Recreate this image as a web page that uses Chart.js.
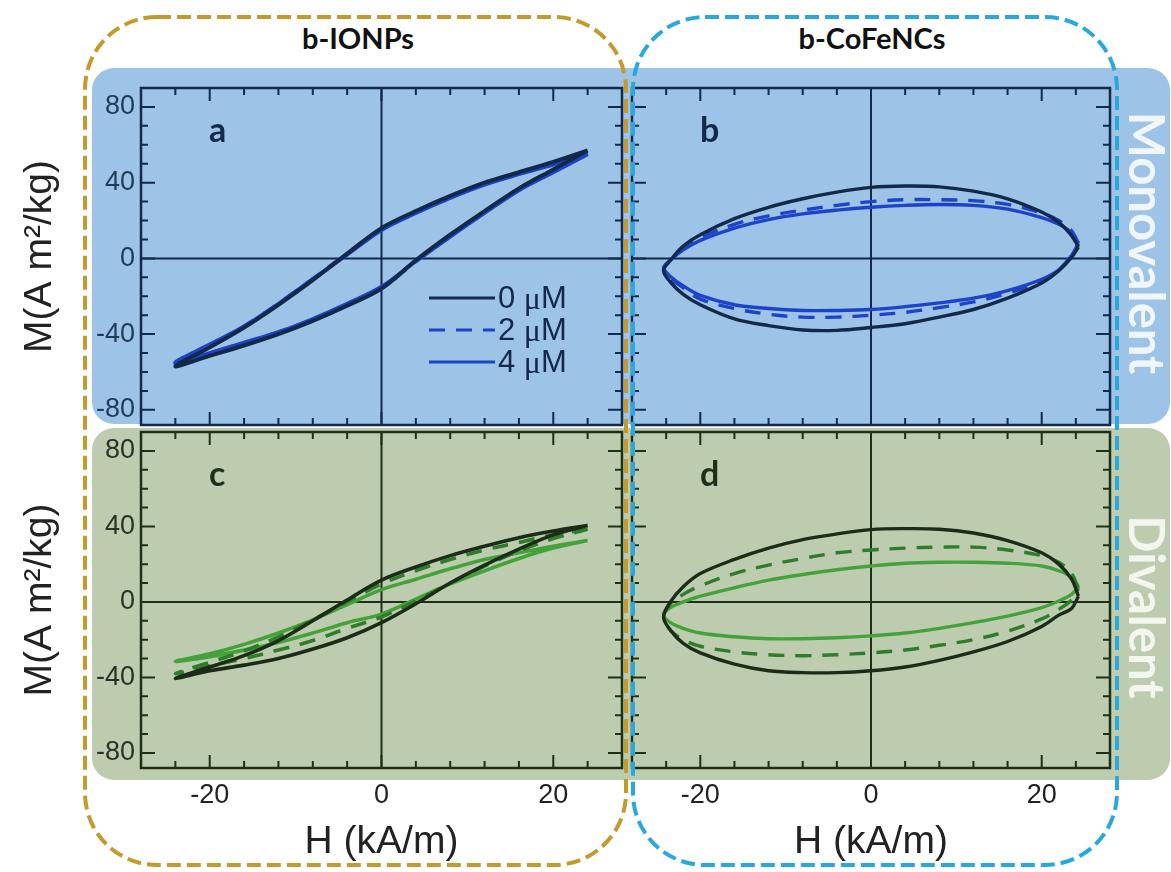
<!DOCTYPE html>
<html>
<head>
<meta charset="utf-8">
<script src="https://cdn.jsdelivr.net/npm/chart.js@4.4.0/dist/chart.umd.min.js"></script>
<style>
  html, body { margin: 0; padding: 0; background: #fff; }
  #fig { position: relative; width: 1171px; height: 872px; overflow: hidden; }
  .band { position: absolute; border-radius: 22px; }
  #bandMono { left: 92px; top: 68px; width: 1078px; height: 356px; background: #9dc3e6; }
  #bandDi { left: 92px; top: 428px; width: 1078px; height: 352px; background: #bdccaf; }
  canvas { position: absolute; }
  .colhead { position: absolute; top: 20px; width: 300px; text-align: center;
             font: 700 29px Lato, "Open Sans", sans-serif; color: #111; }
  .side { position: absolute; white-space: nowrap; font: 700 49px Lato, "Open Sans", sans-serif;
          transform: translate(-50%, -50%) rotate(90deg); }
  svg { position: absolute; left: 0; top: 0; pointer-events: none; }
</style>
</head>
<body>
<div id="fig">
  <div class="band" id="bandMono"></div>
  <div class="band" id="bandDi"></div>

  <div class="colhead" style="left:208px">b-IONPs</div>
  <div class="colhead" style="left:722px">b-CoFeNCs</div>

  <div class="side" style="left:1148px; top:243px; color:rgba(246,249,253,0.95)">Monovalent</div>
  <div class="side" style="left:1148px; top:607px; color:rgba(246,248,242,0.95)">Divalent</div>

  <canvas id="cA" width="650" height="400" style="left:0px; top:60px"></canvas>
  <canvas id="cB" width="540" height="400" style="left:600px; top:60px"></canvas>
  <canvas id="cC" width="650" height="467" style="left:0px; top:405px"></canvas>
  <canvas id="cD" width="540" height="467" style="left:600px; top:405px"></canvas>

  <svg width="1171" height="872">
    <rect x="85" y="17" width="541" height="848" rx="72" ry="72" fill="none"
          stroke="#c39a2b" stroke-width="4" stroke-dasharray="14 6"/>
    <rect x="633" y="17" width="484" height="848" rx="72" ry="72" fill="none"
          stroke="#29a8e0" stroke-width="4" stroke-dasharray="14 6"/>
  </svg>
</div>

<script>
// ---- field sweeps (kA/m): down branch then up branch ----
const hIONP = [24, 20, 16, 12, 8, 4, 0, -4, -8, -12, -16, -20, -24,
               -20, -16, -12, -8, -4, 0, 4, 8, 12, 16, 20, 24];
const hCoFe = [24.3, 23.5, 22, 20, 16, 12, 8, 4, 0, -4, -8, -12, -16, -20, -22, -23.5, -24.3,
               -23.5, -22, -20, -16, -12, -8, -4, 0, 4, 8, 12, 16, 20, 22, 23.5, 24.3];

// ---- magnetisation (A m2/kg) ----
// b-IONPs, monovalent
const mA0 = [57, 51, 45.5, 40, 33, 25, 16, 2.5, -11.5, -24.5, -36.5, -47, -57,
             -51.5, -46, -40, -33, -25, -16, -1, 12.5, 25, 37, 47, 57];
const mA2 = [55.5, 50, 45, 39.5, 32.5, 24.5, 15.5, 2.5, -11, -24, -36, -46, -55.5,
             -50.5, -45, -39, -32.5, -24.5, -15.5, -1.5, 12, 24.5, 36.5, 46, 55.5];
const mA4 = [55, 49.5, 44.5, 39, 32, 24, 15, 2, -11, -24, -36, -45.5, -55,
             -50, -44.5, -39, -32, -24, -15, -1.5, 11.5, 24, 36, 45.5, 55];
// b-CoFeNCs, monovalent
const mB0 = [6, 12, 19, 24.5, 31.5, 35.5, 37.8, 38.2, 37.5, 35, 31.5, 27, 21, 12.5, 6.5, -1, -6.5,
             -12.5, -19, -24.5, -32, -35.5, -37.8, -38, -36.5, -34.5, -31, -27, -21, -13, -6.5, 0.5, 6];
const mB2 = [8, 14.5, 20, 24, 28.5, 30.5, 31, 31, 30, 28, 25.5, 22.5, 18, 11, 5, -1, -5.5,
             -10.5, -15.5, -21.5, -26.5, -29.5, -31, -31, -30, -28.5, -26, -23, -18.5, -12, -6, 1.5, 8];
const mB4 = [8, 13.5, 18, 21.5, 26, 28, 28.5, 28, 27, 25.5, 23.5, 20.5, 16, 9.5, 4.5, -1, -5,
             -9.5, -14.5, -19.5, -24.5, -26.5, -27.5, -27.5, -27, -25.5, -23.5, -21, -17, -11, -6, 1.5, 8];
// b-IONPs, divalent
const mC0 = [40.5, 37.5, 34, 29.5, 24.5, 18.5, 11.5, 1, -10, -20.5, -28.5, -34.5, -40.5,
             -36.5, -33.5, -30, -25, -19, -11, -1, 10, 19.5, 28, 35.5, 40.5];
const mC2 = [38.5, 35.5, 31.5, 27.5, 22.5, 16.5, 9.5, 0, -9.5, -18.5, -26, -32, -38,
             -34, -30, -25.5, -20.5, -14, -8, 0.5, 10, 19, 27, 33.5, 38.5];
const mC4 = [32.5, 29.5, 26, 22.5, 17.5, 12, 6.5, -1.5, -9.5, -16.5, -22.5, -27.5, -31.5,
             -29, -25.5, -21.5, -16.5, -11, -6.5, 1.5, 9.5, 16.5, 23, 28.5, 32.5];
// b-CoFeNCs, divalent
const mD0 = [3, 12, 20, 26, 32.5, 36.5, 38.5, 38.8, 38.3, 36, 33, 28.5, 22.5, 15, 8, 0, -8,
             -15, -22, -27, -33, -36.5, -37.5, -37.5, -36.5, -34.5, -31, -26.5, -21, -13, -7, -3.5, 3];
const mD2 = [7, 15, 21, 24.5, 27.5, 29, 29, 28.5, 27.5, 26, 23, 19.5, 15, 8.5, 4, -1, -8,
             -15, -20, -23.5, -26.5, -28, -28.5, -28, -27, -25.5, -23, -20, -15.5, -9, -4, 1, 7];
const mD4 = [8, 13, 16.5, 19, 20.5, 21, 21, 20.5, 19, 17, 14.5, 11.5, 7.5, 3, 0, -3, -7,
             -11, -14, -16.5, -18.5, -19.5, -19.5, -19, -18, -16.5, -14, -11, -7.5, -3, 0.5, 4, 8];

// ---- concentrations and axis ticks ----
const concLabels = ['0 \u03BCM', '2 \u03BCM', '4 \u03BCM'];
const xLabelTicks = [-20, 0, 20];
const xTickMarks = [-24, -20, -16, -12, -8, -4, 0, 4, 8, 12, 16, 20, 24];
const yLabelTicks = [-80, -40, 0, 40, 80];
const yTickMarks = [-80, -70, -60, -50, -40, -30, -20, -10, 0, 10, 20, 30, 40, 50, 60, 70, 80];

const SANS = '"Liberation Sans", Arial, sans-serif';
const BOLD = 'Lato, "Open Sans", sans-serif';

const toPoints = (h, m) => h.map((v, i) => ({ x: v, y: m[i] }));

// frame, zero lines, inward tick marks, panel letter, optional legend
const framePlugin = {
  id: 'frame',
  beforeDatasetsDraw(chart, args, o) {
    const { ctx, chartArea: a, scales: { x, y } } = chart;
    const x0 = x.getPixelForValue(0), y0 = y.getPixelForValue(0);
    ctx.save();
    ctx.strokeStyle = o.color;
    ctx.lineWidth = 2;
    ctx.beginPath();
    ctx.moveTo(x0, a.top); ctx.lineTo(x0, a.bottom);
    ctx.moveTo(a.left, y0); ctx.lineTo(a.right, y0);
    ctx.stroke();
    ctx.restore();
  },
  afterDatasetsDraw(chart, args, o) {
    const { ctx, chartArea: a, scales: { x, y } } = chart;
    ctx.save();
    ctx.strokeStyle = o.color;
    ctx.lineWidth = 2.5;
    ctx.strokeRect(a.left, a.top, a.right - a.left, a.bottom - a.top);
    ctx.lineWidth = 2;
    ctx.beginPath();
    xTickMarks.forEach(v => {
      const px = x.getPixelForValue(v);
      const len = xLabelTicks.includes(v) ? 13 : 7;
      ctx.moveTo(px, a.top); ctx.lineTo(px, a.top + len);
      ctx.moveTo(px, a.bottom); ctx.lineTo(px, a.bottom - len);
    });
    yTickMarks.forEach(v => {
      const py = y.getPixelForValue(v);
      const len = yLabelTicks.includes(v) ? 14 : 7;
      ctx.moveTo(a.left, py); ctx.lineTo(a.left + len, py);
      ctx.moveTo(a.right, py); ctx.lineTo(a.right - len, py);
    });
    ctx.stroke();

    // panel letter
    ctx.fillStyle = o.color;
    ctx.font = '700 34px ' + BOLD;
    ctx.textBaseline = 'alphabetic';
    ctx.fillText(o.letter, a.left + 68, a.top + 54);

    // legend
    if (o.legend) {
      const lx = a.left + 288, ly = a.top + 210, gap = 32, lineLen = 66;
      chart.data.datasets.forEach((ds, i) => {
        const yy = ly + i * gap;
        ctx.strokeStyle = ds.borderColor;
        ctx.lineWidth = 3;
        ctx.setLineDash(ds.borderDash || []);
        ctx.beginPath();
        ctx.moveTo(lx, yy); ctx.lineTo(lx + lineLen, yy);
        ctx.stroke();
        ctx.setLineDash([]);
        // label: number, then a serif mu, then unit
        const [num, unit] = ds.label.split(' ');
        let tx = lx + lineLen + 3;
        ctx.fillStyle = o.color;
        ctx.textBaseline = 'middle';
        ctx.font = '31px ' + SANS;
        ctx.fillText(num + ' ', tx, yy + 1);
        tx += ctx.measureText(num + ' ').width;
        ctx.font = '32px "Liberation Serif", serif';
        ctx.fillText(unit[0], tx, yy + 3);
        tx += ctx.measureText(unit[0]).width;
        ctx.font = '31px ' + SANS;
        ctx.fillText(unit.slice(1), tx, yy + 1);
      });
    }
    ctx.restore();
  }
};

function makeSet(label, h, m, color, dashed, width) {
  return {
    label, data: toPoints(h, m), showLine: true, pointRadius: 0,
    borderColor: color, borderWidth: width, borderDash: dashed ? [16, 11] : [],
    tension: 0.35, fill: false
  };
}

function makePanel(id, cfg) {
  new Chart(document.getElementById(id), {
    type: 'scatter',
    data: { datasets: cfg.sets },
    plugins: [framePlugin],
    options: {
      responsive: false, animation: false, events: [],
      layout: { padding: cfg.pad },
      plugins: {
        legend: { display: false }, tooltip: { enabled: false },
        frame: { color: cfg.frameColor, letter: cfg.letter, legend: !!cfg.legend }
      },
      scales: {
        x: {
          type: 'linear', min: -28, max: 28,
          grid: { display: false, drawTicks: false }, border: { display: false },
          afterBuildTicks: s => { s.ticks = xLabelTicks.map(v => ({ value: v })); },
          afterFit: s => { s.height = cfg.xh; },
          ticks: { display: cfg.xLabels, padding: 11, color: '#222', autoSkip: false, maxRotation: 0,
                   font: { family: SANS, size: 27 } },
          title: { display: cfg.xLabels, text: 'H (kA/m)', color: '#222',
                   font: { family: SANS, size: 39 }, padding: { top: 0, bottom: 6 } }
        },
        y: {
          type: 'linear', min: -88, max: 90,
          grid: { display: false, drawTicks: false }, border: { display: false },
          afterBuildTicks: s => { s.ticks = yLabelTicks.map(v => ({ value: v })); },
          afterFit: s => { s.width = cfg.yw; },
          ticks: { display: cfg.yLabels, padding: 6, color: cfg.tickColor, autoSkip: false,
                   font: { family: SANS, size: 27 } },
          title: { display: cfg.yLabels, text: 'M(A m\u00B2/kg)', color: '#222',
                   font: { family: SANS, size: 39 }, padding: { top: 17, bottom: 0 } }
        }
      }
    }
  });
}

const NAVY = '#12294a', BLUE = '#1d43c9';
const DARKG = '#1c2c18', MIDG = '#2e7d2a', LIGHTG = '#45a23a';

makePanel('cA', {
  letter: 'a', legend: true, frameColor: NAVY, tickColor: '#1f3b5a',
  pad: { top: 28, right: 28, bottom: 35, left: 0 }, xh: 0, yw: 141,
  xLabels: false, yLabels: true,
  sets: [makeSet(concLabels[0], hIONP, mA0, NAVY, false, 4),
         makeSet(concLabels[1], hIONP, mA2, BLUE, true, 4),
         makeSet(concLabels[2], hIONP, mA4, BLUE, false, 4)]
});
makePanel('cB', {
  letter: 'b', frameColor: NAVY, tickColor: '#1f3b5a',
  pad: { top: 28, right: 30, bottom: 35, left: 32 }, xh: 0, yw: 0,
  xLabels: false, yLabels: false,
  sets: [makeSet(concLabels[0], hCoFe, mB0, NAVY, false, 3.4),
         makeSet(concLabels[1], hCoFe, mB2, BLUE, true, 3.4),
         makeSet(concLabels[2], hCoFe, mB4, BLUE, false, 3.4)]
});
makePanel('cC', {
  letter: 'c', frameColor: '#1e3018', tickColor: '#2a3328',
  pad: { top: 27, right: 28, bottom: 0, left: 0 }, xh: 104, yw: 141,
  xLabels: true, yLabels: true,
  sets: [makeSet(concLabels[0], hIONP, mC0, DARKG, false, 3.6),
         makeSet(concLabels[1], hIONP, mC2, MIDG, true, 3.6),
         makeSet(concLabels[2], hIONP, mC4, LIGHTG, false, 3.6)]
});
makePanel('cD', {
  letter: 'd', frameColor: '#1e3018', tickColor: '#2a3328',
  pad: { top: 27, right: 30, bottom: 0, left: 32 }, xh: 104, yw: 0,
  xLabels: true, yLabels: false,
  sets: [makeSet(concLabels[0], hCoFe, mD0, DARKG, false, 3.4),
         makeSet(concLabels[1], hCoFe, mD2, MIDG, true, 3.4),
         makeSet(concLabels[2], hCoFe, mD4, LIGHTG, false, 3.4)]
});
</script>
</body>
</html>
